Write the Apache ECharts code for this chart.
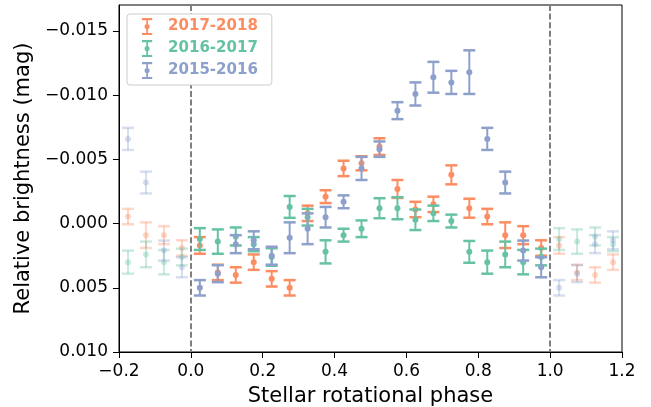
<!DOCTYPE html>
<html>
<head>
<meta charset="utf-8">
<script src="https://cdn.jsdelivr.net/npm/echarts@6/dist/echarts.min.js"></script>
<style>
  html, body { margin: 0; padding: 0; background: #fff; }
  #app { width: 651px; height: 407px; }
</style>
</head>
<body>
<div id="app"></div>
<script>
// rotational phase bins (centre of each bin)
const phases = [0.025, 0.075, 0.125, 0.175, 0.225, 0.275, 0.325, 0.375, 0.425, 0.475,
                0.525, 0.575, 0.625, 0.675, 0.725, 0.775, 0.825, 0.875, 0.925, 0.975];

// 2017-2018
const mag1718 = [0.0017, 0.0038, 0.0040, 0.0030, 0.0043, 0.0050, -0.0008, -0.0021, -0.0043, -0.0047,
                 -0.0060, -0.0027, -0.0011, -0.0015, -0.0038, -0.0012, -0.00055, 0.0009, 0.0009, 0.0019];
const err1718 = [0.00065, 0.0006, 0.0006, 0.0006, 0.0006, 0.0006, 0.0006, 0.0005, 0.0006, 0.00055,
                 0.00065, 0.0007, 0.0006, 0.0006, 0.00074, 0.00074, 0.0006, 0.001, 0.0007, 0.0006];

// 2016-2017
const mag1617 = [0.0012, 0.0014, 0.0010, 0.0016, 0.0026, -0.0013, -0.0005, 0.0022, 0.0009, 0.0004,
                 -0.0012, -0.0012, -0.0003, -0.0008, -0.0002, 0.0022, 0.0030, 0.0024, 0.0030, 0.0026];
const err1617 = [0.00085, 0.00095, 0.0007, 0.00055, 0.00068, 0.00085, 0.00065, 0.0009, 0.0005, 0.00065,
                 0.00078, 0.00086, 0.0008, 0.0006, 0.0005, 0.00085, 0.0009, 0.001, 0.00095, 0.00065];

// 2015-2016
const mag1516 = [0.0050, 0.0039, 0.0016, 0.0013, 0.0025, 0.0011, 0.0004, -0.0005, -0.0017, -0.0043,
                 -0.0058, -0.0088, -0.0101, -0.0114, -0.0110, -0.0118, -0.0066, -0.0032, 0.0021, 0.0034];
const err1516 = [0.0006, 0.00066, 0.0007, 0.0007, 0.0007, 0.0012, 0.0012, 0.0008, 0.0005, 0.0009,
                 0.0006, 0.00066, 0.0009, 0.0012, 0.0009, 0.0017, 0.00086, 0.00085, 0.00078, 0.00078];

const seasons = ['2017-2018', '2016-2017', '2015-2016'];
const colors = ['#fc8d62', '#66c2a5', '#8da0cb'];
const mags = [mag1718, mag1617, mag1516];
const errs = [err1718, err1617, err1516];

const yTicks = [-0.015, -0.010, -0.005, 0.000, 0.005, 0.010];
const phaseMarks = [0, 1];   // dashed vertical lines

const FONT = 'DejaVu Sans';
const fmt = (v, d) => {
  const s = Math.abs(v).toFixed(d);
  return (v < 0 && Number(s) !== 0 ? '\u2212' : '') + s;
};

// errorbar legend glyph (caps, stem and dot, all drawn clockwise)
const errIcon = 'path://M0,0h12v2.5h-5v15h5v2.5h-12v-2.5h5v-15h-5z M3,10a3,3 0 1,1 6,0a3,3 0 1,1 -6,0z';

const errorbar = (color, alpha) => (params, api) => {
  const x = api.value(0), y = api.value(1), e = api.value(2);
  const p = api.coord([x, y]);
  const t = api.coord([x, y - e]);
  const b = api.coord([x, y + e]);
  return {
    type: 'group',
    children: [
      { type: 'line', shape: { x1: p[0], y1: t[1], x2: p[0], y2: b[1] },
        style: { stroke: color, lineWidth: 2, opacity: alpha } },
      { type: 'line', shape: { x1: p[0] - 6, y1: t[1], x2: p[0] + 6, y2: t[1] },
        style: { stroke: color, lineWidth: 2.5, opacity: alpha } },
      { type: 'line', shape: { x1: p[0] - 6, y1: b[1], x2: p[0] + 6, y2: b[1] },
        style: { stroke: color, lineWidth: 2.5, opacity: alpha } },
      { type: 'circle', shape: { cx: p[0], cy: p[1], r: 3 },
        style: { fill: color, opacity: alpha } }
    ]
  };
};

const series = [];

// dashed vertical lines, full plot height
series.push({
  name: 'phase marks',
  type: 'custom',
  silent: true,
  z: 1,
  data: phaseMarks.map(v => [v]),
  renderItem: (params, api) => {
    const x = Math.round(api.coord([api.value(0), 0])[0]);
    const cs = params.coordSys;
    return {
      type: 'line',
      shape: { x1: x, y1: cs.y, x2: x, y2: cs.y + cs.height },
      style: { stroke: '#7f7f7f', lineWidth: 2, lineDash: [6, 2.6] }
    };
  }
});

seasons.forEach((name, i) => {
  const main = phases.map((ph, k) => [ph, mags[i][k], errs[i][k]]);
  // repeated points outside 0..1 (phase wrapped)
  const wrapped = [];
  phases.forEach((ph, k) => {
    if (ph > 0.8) wrapped.push([ph - 1, mags[i][k], errs[i][k]]);
    if (ph < 0.2) wrapped.push([ph + 1, mags[i][k], errs[i][k]]);
  });
  series.push({
    name: name + ' wrapped',
    type: 'custom',
    renderItem: errorbar(colors[i], 0.35),
    data: wrapped,
    z: 2 + i,
    silent: true
  });
  series.push({
    name: name,
    type: 'custom',
    renderItem: errorbar(colors[i], 1),
    itemStyle: { color: colors[i] },
    data: main,
    z: 5 + i,
    silent: true
  });
});

const chart = echarts.init(document.getElementById('app'));
chart.setOption({
  animation: false,
  backgroundColor: '#fff',
  textStyle: { fontFamily: FONT },
  grid: {
    left: 119, right: 29, top: 5, bottom: 55,
    containLabel: false,
    outerBoundsMode: 'none',
    show: true, borderColor: '#000', borderWidth: 1, backgroundColor: 'transparent'
  },
  legend: {
    left: 127, top: 14,
    orient: 'vertical',
    itemWidth: 12, itemHeight: 17, itemGap: 5,
    padding: [4, 14, 6, 15],
    backgroundColor: '#fff',
    borderColor: '#cccccc', borderWidth: 1, borderRadius: 3,
    icon: errIcon,
    textStyle: { fontFamily: FONT, fontSize: 15, fontWeight: 'bold', padding: [0, 0, 0, 10] },
    data: seasons.map((s, i) => ({ name: s, textStyle: { color: colors[i] } }))
  },
  xAxis: {
    type: 'value',
    min: -0.2, max: 1.2, interval: 0.2,
    name: 'Stellar rotational phase',
    nameLocation: 'middle', nameGap: 34,
    nameTextStyle: { fontFamily: FONT, fontSize: 21, color: '#000' },
    axisLine: { onZero: false, lineStyle: { color: '#000', width: 1 } },
    axisTick: { show: true, length: 6, lineStyle: { color: '#000' } },
    axisLabel: { fontFamily: FONT, fontSize: 17, color: '#000', margin: 11,
                 formatter: v => fmt(v, 1) },
    splitLine: { show: false }
  },
  yAxis: {
    type: 'value',
    inverse: true,
    min: -0.01703, max: 0.010,
    name: 'Relative brightness (mag)',
    nameLocation: 'middle', nameGap: 79,
    nameTextStyle: { fontFamily: FONT, fontSize: 21, color: '#000' },
    axisLine: { show: true, onZero: false, lineStyle: { color: '#000', width: 1 } },
    axisTick: { show: true, length: 6, lineStyle: { color: '#000' }, customValues: yTicks },
    axisLabel: { fontFamily: FONT, fontSize: 17, color: '#000', margin: 11,
                 customValues: yTicks, formatter: v => fmt(v, 3) },
    splitLine: { show: false }
  },
  series: series
});
</script>
</body>
</html>
